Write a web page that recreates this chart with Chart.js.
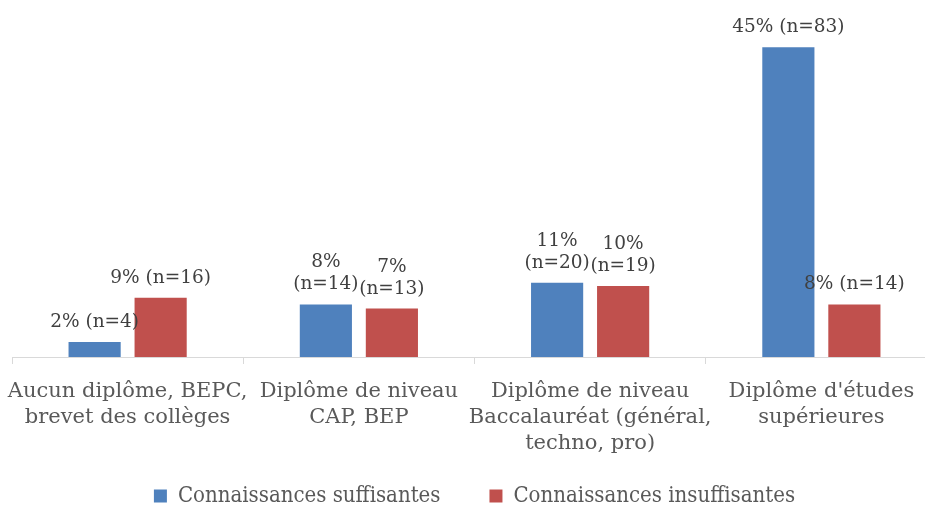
<!DOCTYPE html>
<html>
<head>
<meta charset="utf-8">
<script src="https://cdn.jsdelivr.net/npm/chart.js@4.4.1/dist/chart.umd.min.js"></script>
<style>
  html, body { margin: 0; padding: 0; background: #fff; overflow: hidden; }
  #wrap { position: relative; width: 940px; height: 506px; }
</style>
</head>
<body>
<div id="wrap"><canvas id="myChart"></canvas></div>
<script>
// 類別（每行一個陣列元素）
const categories = [
    ['Aucun diplôme, BEPC,', 'brevet des collèges'],
    ['Diplôme de niveau', 'CAP, BEP'],
    ['Diplôme de niveau', 'Baccalauréat (général,', 'techno, pro)'],
    ['Diplôme d\'études', 'supérieures']
];

// 數值（%）
const suffisantes = [2.2, 7.7, 10.9, 45.4];
const insuffisantes = [8.7, 7.1, 10.4, 7.7];

// 資料標籤
const labelsSuffisantes = [['2% (n=4)'], ['8%', '(n=14)'], ['11%', '(n=20)'], ['45% (n=83)']];
const labelsInsuffisantes = [['9% (n=16)'], ['7%', '(n=13)'], ['10%', '(n=19)'], ['8% (n=14)']];

const FONT = '"DejaVu Serif", serif';
const LEGEND_FONT = '"DejaVu Serif Condensed", "DejaVu Serif", serif';

// 外掛：在長條上方畫標籤
const barLabels = {
    id: 'barLabels',
    afterDatasetsDraw(chart) {
        const ctx = chart.ctx;
        const allLabels = [labelsSuffisantes, labelsInsuffisantes];
        ctx.save();
        ctx.font = '18.5px ' + FONT;
        ctx.fillStyle = '#404040';
        ctx.textAlign = 'center';
        ctx.textBaseline = 'alphabetic';
        chart.data.datasets.forEach((ds, di) => {
            const meta = chart.getDatasetMeta(di);
            meta.data.forEach((bar, i) => {
                const lines = allLabels[di][i];
                for (let k = 0; k < lines.length; k++) {
                    const y = bar.y - 15 - (lines.length - 1 - k) * 22;
                    ctx.fillText(lines[k], bar.x, y);
                }
            });
        });
        ctx.restore();
    }
};

// 外掛：圖例往上移，和 x 軸標籤重疊留白
const legendShift = {
    id: 'legendShift',
    afterLayout(chart) {
        chart.legend.top -= 26;
        chart.legend.bottom -= 26;
    }
};

const ctx = document.getElementById('myChart').getContext('2d');
const myChart = new Chart(ctx, {
    type: 'bar',
    data: {
        labels: categories,
        datasets: [
            {
                label: 'Connaissances suffisantes',
                data: suffisantes,
                backgroundColor: '#4f81bd',
                categoryPercentage: 0.571,
                barPercentage: 0.79
            },
            {
                label: 'Connaissances insuffisantes',
                data: insuffisantes,
                backgroundColor: '#c0504d',
                categoryPercentage: 0.571,
                barPercentage: 0.79
            }
        ]
    },
    options: {
        responsive: true,
        maintainAspectRatio: false,
        animation: false,
        layout: { padding: { left: 12, right: 3, top: 16, bottom: -37 } },
        scales: {
            y: {
                display: false,
                min: 0,
                max: 50
            },
            x: {
                border: { display: true, color: '#d9d9d9', width: 1 },
                grid: {
                    display: true,
                    drawOnChartArea: false,
                    drawTicks: true,
                    tickLength: 7,
                    color: '#d9d9d9'
                },
                ticks: {
                    color: '#595959',
                    font: { family: FONT, size: 21, lineHeight: 1.25 },
                    maxRotation: 0,
                    autoSkip: false,
                    padding: 14
                },
                afterFit(scale) {
                    // 標籤可以超出邊緣，不要額外留白
                    scale.paddingLeft = 0;
                    scale.paddingRight = 0;
                    scale.height = 105;
                }
            }
        },
        plugins: {
            tooltip: { enabled: false },
            legend: {
                position: 'bottom',
                labels: {
                    color: '#595959',
                    font: { family: LEGEND_FONT, size: 22 },
                    boxWidth: 13,
                    boxHeight: 13,
                    padding: 49
                }
            }
        }
    },
    plugins: [barLabels, legendShift]
});
</script>
</body>
</html>
